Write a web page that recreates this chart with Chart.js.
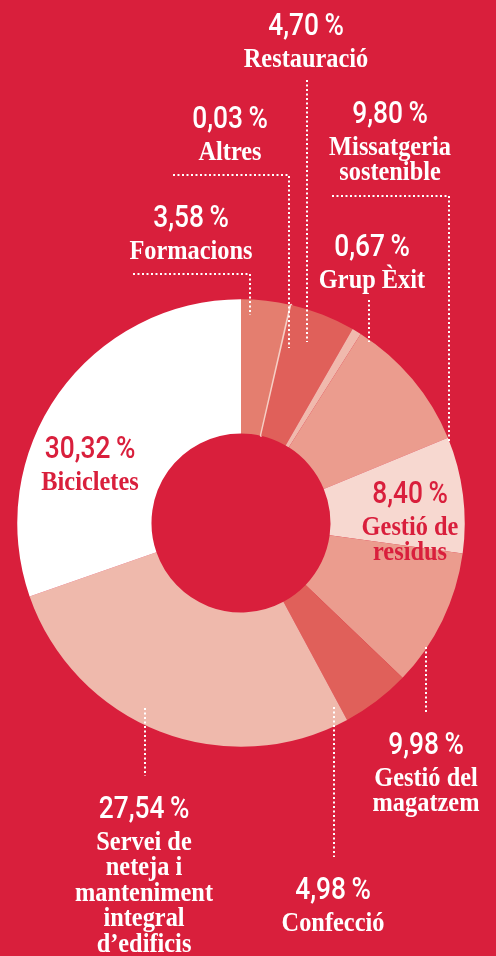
<!DOCTYPE html>
<html>
<head>
<meta charset="utf-8">
<script src="https://cdn.jsdelivr.net/npm/chart.js@4/dist/chart.umd.min.js"></script>
<style>
  html, body { margin: 0; padding: 0; background: #D91F3C; }
  #wrap { position: relative; width: 496px; height: 956px; }
</style>
</head>
<body>
<div id="wrap"><canvas id="chartDonut"></canvas></div>
<script>
// --- DATA ---
const CATEGORIES = [
  "Formacions", "Altres", "Restauració", "Grup Èxit", "Missatgeria sostenible",
  "Gestió de residus", "Gestió del magatzem", "Confecció",
  "Servei de neteja i manteniment integral d’edificis", "Bicicletes",
];
const SHARES = [3.58, 0.03, 4.70, 0.67, 9.80, 8.40, 9.98, 4.98, 27.54, 30.32];
// how each category name is broken over lines
const LABEL_LINES = [
  ["Formacions"], ["Altres"], ["Restauració"], ["Grup Èxit"],
  ["Missatgeria", "sostenible"], ["Gestió de", "residus"],
  ["Gestió del", "magatzem"], ["Confecció"],
  ["Servei de", "neteja i", "manteniment", "integral", "d’edificis"],
  ["Bicicletes"],
];

// --- STYLE / LAYOUT ---
const BG = "#D91F3C";
const SLICE_COLORS = [
  "#E47E6F", "#F6CFC5", "#E0605A", "#F0B9AD", "#EB9C8E",
  "#F7D8D0", "#EB9C8E", "#E0605A", "#EFB9AC", "#FFFFFF",
];
// label anchor (centre x, baseline of the % line) and text colour
const LABEL_POS = [
  { x: 191, y: 227 }, { x: 230, y: 128 }, { x: 306, y: 35 }, { x: 372, y: 256 },
  { x: 390, y: 123 }, { x: 410, y: 503, c: BG }, { x: 426, y: 754 },
  { x: 333, y: 899 }, { x: 144, y: 818 }, { x: 90, y: 458, c: BG },
];
// dotted leader lines (polyline points)
const LEADERS = [
  [[133, 274], [250, 274], [250, 315]],
  [[173, 175], [289, 175], [289, 348]],
  [[307, 80], [307, 342]],
  [[369, 300], [369, 342]],
  [[332, 196], [449, 196], [449, 442]],
  [[426, 647], [426, 714]],
  [[334, 707], [334, 857]],
  [[145, 708], [145, 776]],
];

const PCT_FONT = "500 31px Roboto";
const PCT_SX = 0.85;
const NAME_FONT = "bold 28px 'Liberation Serif'";
const NAME_SX = 0.87;

function fmtPct(v) {
  return v.toFixed(2).replace(".", ",") + "\u2009%";
}

function drawText(ctx, txt, x, y, font, color, sx) {
  ctx.save();
  ctx.font = font;
  ctx.fillStyle = color;
  ctx.textAlign = "center";
  ctx.textBaseline = "alphabetic";
  ctx.translate(x, y);
  ctx.scale(sx, 1);
  ctx.fillText(txt, 0, 0);
  ctx.restore();
}

// labels + leaders drawn after the doughnut
const annotations = {
  id: "annotations",
  afterDraw(chart) {
    const ctx = chart.ctx;
    ctx.save();
    ctx.strokeStyle = "#FFFFFF";
    ctx.lineWidth = 2;
    ctx.setLineDash([2, 2.5]);
    LEADERS.forEach((pts) => {
      ctx.beginPath();
      pts.forEach((p, k) => (k ? ctx.lineTo(p[0], p[1]) : ctx.moveTo(p[0], p[1])));
      ctx.stroke();
    });
    ctx.restore();

    SHARES.forEach((v, i) => {
      const pos = LABEL_POS[i];
      const col = pos.c || "#FFFFFF";
      drawText(ctx, fmtPct(v), pos.x, pos.y, PCT_FONT, col, PCT_SX);
      LABEL_LINES[i].forEach((line, k) => {
        drawText(ctx, line, pos.x, pos.y + 31.5 + k * 25.5, NAME_FONT, col, NAME_SX);
      });
    });
  },
};

new Chart(document.getElementById("chartDonut"), {
  type: "doughnut",
  data: {
    labels: CATEGORIES,
    datasets: [
      {
        data: SHARES,
        backgroundColor: SLICE_COLORS,
        borderColor: SLICE_COLORS,
        borderWidth: SHARES.map((v, i) => (i === 1 ? 2.5 : 0)),
      },
    ],
  },
  options: {
    responsive: true,
    maintainAspectRatio: false,
    animation: false,
    events: [],
    cutout: "40%",
    layout: { padding: { left: 16, right: 30, top: 298, bottom: 208 } },
    plugins: { legend: { display: false }, tooltip: { enabled: false } },
  },
  plugins: [annotations],
});
</script>
</body>
</html>
